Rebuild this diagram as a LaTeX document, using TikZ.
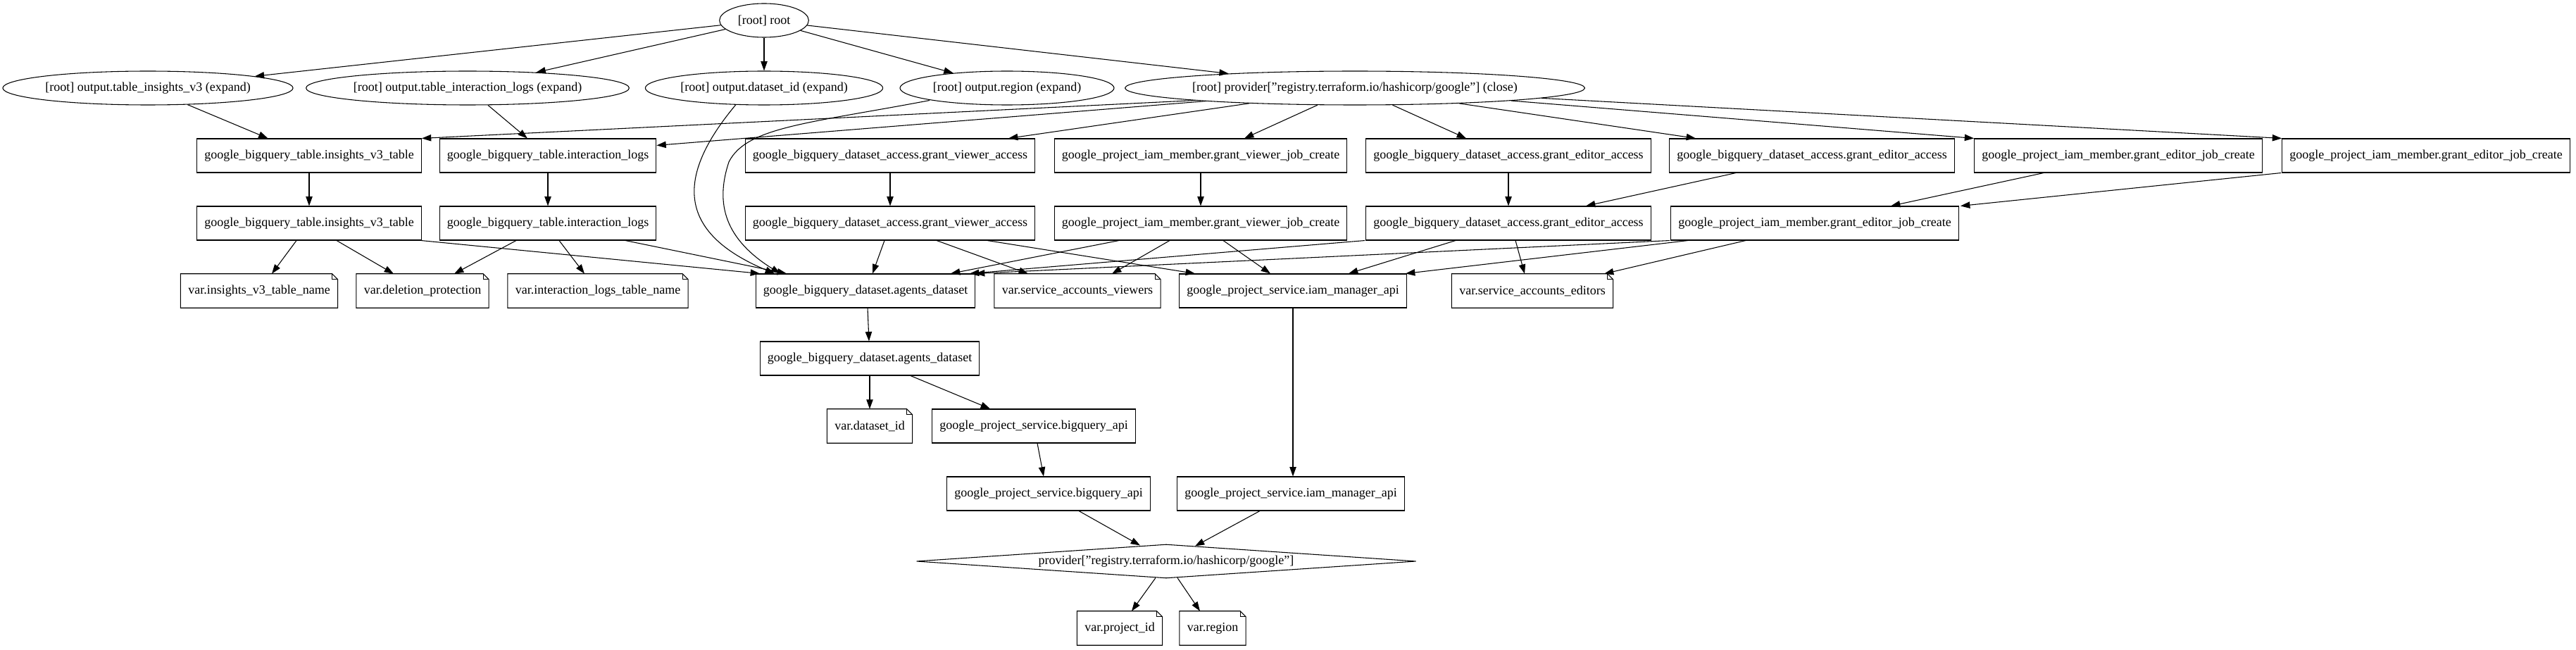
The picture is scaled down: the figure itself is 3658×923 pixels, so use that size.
\documentclass[tikz,border=0pt]{standalone}
\usepackage{fontspec}
\setmainfont{Liberation Serif}
\usetikzlibrary{shapes.geometric, arrows.meta, calc}
\newcommand{\nodeFont}{\fontsize{13.5}{16}\selectfont}
\tikzstyle{terraformGraph} = [x = .75pt, y = -.75pt]
\tikzstyle{resourceBox} = [draw, rectangle, font=\nodeFont, line width=.8pt, inner xsep=8pt, minimum height=36pt]
\tikzstyle{outputEllipse} = [draw, ellipse, font=\nodeFont, line width=.8pt, inner xsep=0pt, inner ysep=4pt, minimum height=36pt]
\tikzstyle{providerDiamond} = [draw, diamond, aspect=16, font=\nodeFont, line width=.8pt, inner sep=0pt, minimum width=532pt, minimum height=36pt]
\tikzstyle{varNoteStyle} = [rectangle, font=\nodeFont, inner xsep=8pt, minimum height=36pt]
\tikzstyle{noteLine} = [line width=.8pt, line join=miter]
\tikzstyle{depArrow} = [-{Triangle[length=10pt, width=7pt]}, line width=.8pt]
\newcommand{\fold}{6pt}
\newcommand{\varNote}[4]{
  \node [varNoteStyle] (#1) at (#2, #3) {#4};
  \draw [noteLine] (#1.north west) -- ([xshift=-\fold]#1.north east) -- ([yshift=-\fold]#1.north east) -- (#1.south east) -- (#1.south west) -- cycle;
  \draw [noteLine] ([xshift=-\fold]#1.north east) -- ([xshift=-\fold, yshift=-\fold]#1.north east) -- ([yshift=-\fold]#1.north east);
}
\newcommand{\depEdge}[4]{\draw [depArrow] ($(#1.south)+(#2,0)$) -- ($(#3.north)+(#4,0)$);}

\begin{document}
\begin{tikzpicture}[terraformGraph]
  \useasboundingbox (0,0) rectangle (3658,923);

  % root and outputs
  \node [outputEllipse, minimum width=95pt] (root) at (1085,29) {[root] root};
  \node [outputEllipse, minimum width=305pt] (oIns) at (210,125) {[root] output.table\_insights\_v3 (expand)};
  \node [outputEllipse, minimum width=339pt] (oInt) at (664,125) {[root] output.table\_interaction\_logs (expand)};
  \node [outputEllipse, minimum width=253pt] (oDs) at (1085,125) {[root] output.dataset\_id (expand)};
  \node [outputEllipse, minimum width=228pt] (oReg) at (1430,125) {[root] output.region (expand)};
  \node [outputEllipse, minimum width=475pt] (pClose) at (1924,125) {[root] provider["registry.terraform.io/hashicorp/google"] (close)};

  % resources
  \node [resourceBox] (tIns) at (439,221) {google\_bigquery\_table.insights\_v3\_table};
  \node [resourceBox] (tInt) at (778,221) {google\_bigquery\_table.interaction\_logs};
  \node [resourceBox] (gVa) at (1264,221) {google\_bigquery\_dataset\_access.grant\_viewer\_access};
  \node [resourceBox] (iVj) at (1705,221) {google\_project\_iam\_member.grant\_viewer\_job\_create};
  \node [resourceBox] (gEa) at (2142,221) {google\_bigquery\_dataset\_access.grant\_editor\_access};
  \node [resourceBox] (gEb) at (2573,221) {google\_bigquery\_dataset\_access.grant\_editor\_access};
  \node [resourceBox] (iEa) at (3008,221) {google\_project\_iam\_member.grant\_editor\_job\_create};
  \node [resourceBox] (iEb) at (3445,221) {google\_project\_iam\_member.grant\_editor\_job\_create};

  \node [resourceBox] (tIns2) at (439,317) {google\_bigquery\_table.insights\_v3\_table};
  \node [resourceBox] (tInt2) at (778,317) {google\_bigquery\_table.interaction\_logs};
  \node [resourceBox] (gVa2) at (1264,317) {google\_bigquery\_dataset\_access.grant\_viewer\_access};
  \node [resourceBox] (iVj2) at (1705,317) {google\_project\_iam\_member.grant\_viewer\_job\_create};
  \node [resourceBox] (gEa2) at (2142,317) {google\_bigquery\_dataset\_access.grant\_editor\_access};
  \node [resourceBox] (iEa2) at (2577,317) {google\_project\_iam\_member.grant\_editor\_job\_create};

  \varNote{vInsN}{368}{413}{var.insights\_v3\_table\_name}
  \varNote{vDel}{600}{413}{var.deletion\_protection}
  \varNote{vIntN}{849}{413}{var.interaction\_logs\_table\_name}
  \node [resourceBox] (agents) at (1229,413) {google\_bigquery\_dataset.agents\_dataset};
  \varNote{vSaV}{1530}{413}{var.service\_accounts\_viewers}
  \node [resourceBox] (iamApi) at (1836,413) {google\_project\_service.iam\_manager\_api};
  \varNote{vSaE}{2176}{413}{var.service\_accounts\_editors}

  \node [resourceBox] (agents2) at (1235,509) {google\_bigquery\_dataset.agents\_dataset};
  \varNote{vDsId}{1235}{605}{var.dataset\_id}
  \node [resourceBox] (bqApi) at (1468,605) {google\_project\_service.bigquery\_api};
  \node [resourceBox] (bqApi2) at (1489,701) {google\_project\_service.bigquery\_api};
  \node [resourceBox] (iamApi2) at (1833,701) {google\_project\_service.iam\_manager\_api};

  \node [providerDiamond] (prov) at (1656,797) {provider["registry.terraform.io/hashicorp/google"]};
  \varNote{vProj}{1590}{892}{var.project\_id}
  \varNote{vReg}{1722}{892}{var.region}

  % root edges
  \draw [depArrow] (root) -- (oIns);
  \draw [depArrow] (root) -- (oInt);
  \draw [depArrow] (root) -- (oDs);
  \draw [depArrow] (root) -- (oReg);
  \draw [depArrow] (root) -- (pClose);
  \draw [depArrow] (oIns) -- (tIns);
  \draw [depArrow] (oInt) -- (tInt);
  \draw [depArrow] ($(oDs.south)+(-40,-1)$) .. controls (960,250) and (960,330) .. ($(agents.north)+(-129,0)$);
  \draw [depArrow] ($(oReg.south)+(-110,-7)$) .. controls (1150,175) and (1060,180) .. (1035,230) .. controls (1015,290) and (1030,340) .. ($(agents.north)+(-121,0)$);

  % provider close
  \draw [depArrow] ($(pClose.south)+(-227,-7)$) -- (tIns.north east);
  \draw [depArrow] ($(pClose.south)+(-211,-6)$) -- ($(tInt.north east)+(0,10)$);
  \draw [depArrow] (pClose) -- ($(gVa.north)+(168,0)$);
  \draw [depArrow] (pClose) -- ($(iVj.north)+(62,0)$);
  \draw [depArrow] (pClose) -- ($(gEa.north)+(-60,0)$);
  \draw [depArrow] (pClose) -- ($(gEb.north)+(-165,0)$);
  \draw [depArrow] (pClose) -- (iEa.north west);
  \draw [depArrow] (pClose) -- (iEb.north west);

  % second rank
  \depEdge{tIns}{0}{tIns2}{0}
  \depEdge{tInt}{0}{tInt2}{0}
  \depEdge{gVa}{0}{gVa2}{0}
  \depEdge{iVj}{0}{iVj2}{0}
  \depEdge{gEa}{0}{gEa2}{0}
  \depEdge{gEb}{-108}{gEa2}{110}
  \depEdge{iEa}{-106}{iEa2}{108}
  \depEdge{iEb}{-206}{iEa2}{207}

  % variables and services
  \depEdge{tIns2}{-18}{vInsN}{18}
  \depEdge{tIns2}{39}{vDel}{-41}
  \depEdge{tIns2}{159}{agents}{-150}
  \depEdge{tInt2}{-45}{vDel}{45}
  \depEdge{tInt2}{16}{vIntN}{-19}
  \depEdge{tInt2}{110}{agents}{-112}
  \depEdge{gVa2}{-8}{agents}{10}
  \depEdge{gVa2}{66}{vSaV}{-70}
  \depEdge{gVa2}{138}{iamApi}{-139}
  \depEdge{iVj2}{-116}{agents}{121}
  \depEdge{iVj2}{-44}{vSaV}{49}
  \depEdge{iVj2}{32}{iamApi}{-32}
  \depEdge{gEa2}{-204}{agents}{148}
  \depEdge{gEa2}{-75}{iamApi}{79}
  \depEdge{gEa2}{10}{vSaE}{-11}
  \depEdge{iEa2}{-206}{agents}{156}
  \depEdge{iEa2}{-180}{iamApi}{160}
  \depEdge{iEa2}{-98}{vSaE}{102}

  \depEdge{agents}{3}{agents2}{-1}
  \depEdge{agents2}{0}{vDsId}{0}
  \depEdge{agents2}{58}{bqApi}{-62}
  \depEdge{bqApi}{5}{bqApi2}{-7}
  \depEdge{iamApi}{0}{iamApi2}{3}

  % provider
  \draw [depArrow] ($(bqApi2.south)+(43,0)$) -- ($(prov.north)+(-37,2)$);
  \draw [depArrow] ($(iamApi2.south)+(-44,0)$) -- ($(prov.north)+(41,3)$);
  \draw [depArrow] ($(prov.south)+(-15,-1)$) -- ($(vProj.north)+(17,0)$);
  \draw [depArrow] ($(prov.south)+(16,-1)$) -- ($(vReg.north)+(-18,0)$);
\end{tikzpicture}
\end{document}
